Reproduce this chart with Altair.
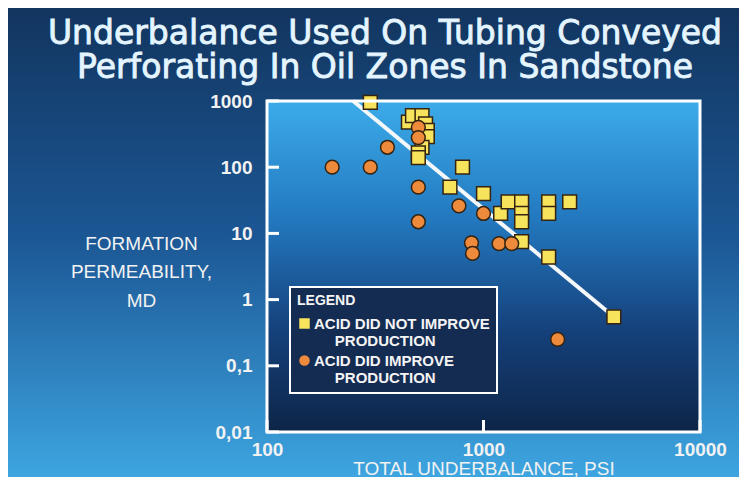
import altair as alt
import pandas as pd

# ---------------- data ----------------
title_lines = ["Underbalance Used On Tubing Conveyed", "Perforating In Oil Zones In Sandstone"]
x_title = "TOTAL UNDERBALANCE, PSI"
y_title = ["FORMATION", "PERMEABILITY,", "MD"]
legend_title = "LEGEND"
indent = "\u200b" + "\u00a0" * 5
groups = ["ACID DID NOT IMPROVE|" + indent + "PRODUCTION",
          "ACID DID IMPROVE|" + indent + "PRODUCTION"]

no_improve_psi = [300, 450, 470, 520, 540, 550, 550, 520, 500, 500,
                  800, 700, 1000, 1200, 1300, 1500, 1500, 1500, 2000, 2000, 2500,
                  1500, 2000, 4000]
no_improve_md = [950, 480, 600, 600, 450, 360, 290, 200, 165, 140,
                 100, 50, 40, 20, 30, 30, 20, 15, 30, 20, 30,
                 7.5, 4.4, 0.55]

improve_psi = [200, 300, 360, 500, 500, 500, 500, 770, 1000, 880, 890, 1180, 1350, 2200]
improve_md = [100, 100, 200, 400, 280, 50, 15, 26, 20, 7.2, 5, 7, 7, 0.25]

trend_psi = [250, 4000]
trend_md = [1000, 0.55]

x_ticks = [100, 1000, 10000]
y_ticks = [1000, 100, 10, 1, 0.1, 0.01]
y_tick_labels = ["1000", "100", "10", "1", "0,1", "0,01"]

# ---------------- layout / style ----------------
W, H = 433, 331
PAD = {"left": 259, "top": 93, "right": 39, "bottom": 45}
FONT = "Liberation Sans"
TXT = "#f2f2f2"

xscale = alt.Scale(type="log", domain=[100, 10000])
yscale = alt.Scale(type="log", domain=[0.01, 1000])

label_expr = ""
for v, s in zip(y_ticks, y_tick_labels):
    label_expr += f"(datum.value > {v}*0.99 && datum.value < {v}*1.01) ? '{s}' : "
label_expr += "''"

x_axis = alt.Axis(values=x_ticks, format="d", labelFlush=False, ticks=False, domain=False,
                  grid=False, labelFont=FONT, labelFontWeight="bold", labelFontSize=19,
                  labelColor=TXT, labelPadding=8, labelOverlap=False,
                  title=x_title, titleFont=FONT, titleFontSize=19, titleFontWeight="normal",
                  titleColor=TXT, titleY=42, titleBaseline="alphabetic", zindex=1)
y_axis = alt.Axis(values=y_ticks, labelExpr=label_expr, ticks=False, domain=False, grid=False,
                  labelFont=FONT, labelFontWeight="bold", labelFontSize=19, labelColor=TXT,
                  labelPadding=15, labelOverlap=False, labelFlush=False,
                  title=y_title, titleFont=FONT, titleFontSize=19, titleFontWeight="normal",
                  titleColor=TXT, titleAngle=0, titleX=-126, titleY=148, titleAlign="center",
                  titleBaseline="alphabetic", titleLineHeight=28.5, zindex=1)

outer_grad = alt.LinearGradient(
    gradient="linear", x1=0, x2=0, y1=0, y2=1,
    stops=[alt.GradientStop(color="#12355f", offset=0),
           alt.GradientStop(color="#1c5896", offset=0.5),
           alt.GradientStop(color="#3da5e0", offset=1)])
plot_grad = alt.LinearGradient(
    gradient="linear", x1=0, x2=0, y1=0, y2=1,
    stops=[alt.GradientStop(color="#3cabe9", offset=0),
           alt.GradientStop(color="#2379c0", offset=0.35),
           alt.GradientStop(color="#15407a", offset=0.7),
           alt.GradientStop(color="#0d2547", offset=1)])

one = pd.DataFrame({"k": [0]})

outer_bg = alt.Chart(one).mark_rect(color=outer_grad).encode(
    x=alt.value(-PAD["left"]), x2=alt.value(W + PAD["right"]),
    y=alt.value(-PAD["top"]), y2=alt.value(H + PAD["bottom"]))
plot_bg = alt.Chart(one).mark_rect(color=plot_grad).encode(
    x=alt.value(0), x2=alt.value(W), y=alt.value(0), y2=alt.value(H))

# chart title (centre at page x=385, first baseline y=44)
TX, TY = 385 - 8 - PAD["left"], 44 - 8 - PAD["top"]
title_text = alt.Chart(one).mark_text(
    text=title_lines, font="DejaVu Sans", fontSize=33, lineHeight=34,
    align="center", baseline="alphabetic", color="#e4f5ff",
    stroke="#e4f5ff", strokeWidth=0.9).encode(
    x=alt.value(TX), y=alt.value(TY))

trend_df = pd.DataFrame({"psi": trend_psi, "md": trend_md})
trend = alt.Chart(trend_df).mark_line(color="#f4f8fb", strokeWidth=4).encode(
    x=alt.X("psi:Q", scale=xscale, axis=x_axis),
    y=alt.Y("md:Q", scale=yscale, axis=y_axis))

pts_df = pd.DataFrame({
    "psi": no_improve_psi + improve_psi,
    "md": no_improve_md + improve_md,
    "group": [groups[0]] * len(no_improve_psi) + [groups[1]] * len(improve_psi),
})
leg = alt.Legend(orient="none", legendX=23, legendY=186, title=legend_title,
                 titleColor="#f4f4f4", titleFont=FONT, titleFontSize=14, titleFontWeight="bold",
                 labelFont=FONT, labelFontWeight="bold", labelFontSize=15, labelColor="#f4f4f4",
                 labelExpr="split(datum.label, '|')", labelLimit=400, symbolSize=110,
                 symbolStrokeWidth=0, fillColor="#142c52", strokeColor="white", padding=7,
                 rowPadding=4, labelOffset=2, titlePadding=8, symbolOpacity=1)
points = alt.Chart(pts_df).mark_point(filled=True, size=190, stroke="#35230f",
                                      strokeWidth=1.5, opacity=1).encode(
    x=alt.X("psi:Q", scale=xscale),
    y=alt.Y("md:Q", scale=yscale),
    color=alt.Color("group:N", scale=alt.Scale(domain=groups, range=["#f8e45c", "#ee8a3c"]), legend=leg),
    shape=alt.Shape("group:N", scale=alt.Scale(domain=groups, range=["square", "circle"]), legend=leg),
)

ytick = alt.Chart(pd.DataFrame({"md": y_ticks})).mark_rule(color="white", strokeWidth=3).encode(
    y=alt.Y("md:Q", scale=yscale), x=alt.value(0), x2=alt.value(12))
xtick = alt.Chart(pd.DataFrame({"psi": x_ticks})).mark_rule(color="white", strokeWidth=3).encode(
    x=alt.X("psi:Q", scale=xscale), y=alt.value(H), y2=alt.value(H - 12))

border = alt.Chart(one).mark_rect(fillOpacity=0, stroke="white", strokeWidth=3).encode(
    x=alt.value(0), x2=alt.value(W), y=alt.value(0), y2=alt.value(H))

chart = alt.layer(outer_bg, plot_bg, title_text, trend, points, ytick, xtick, border).properties(
    width=W, height=H,
    autosize=alt.AutoSizeParams(type="none"),
    padding=PAD,
    background="#1b5590",
).configure_view(strokeWidth=0).configure_legend(strokeWidth=2)

chart.save("out.html", embed_options={"renderer": "svg", "actions": False})
